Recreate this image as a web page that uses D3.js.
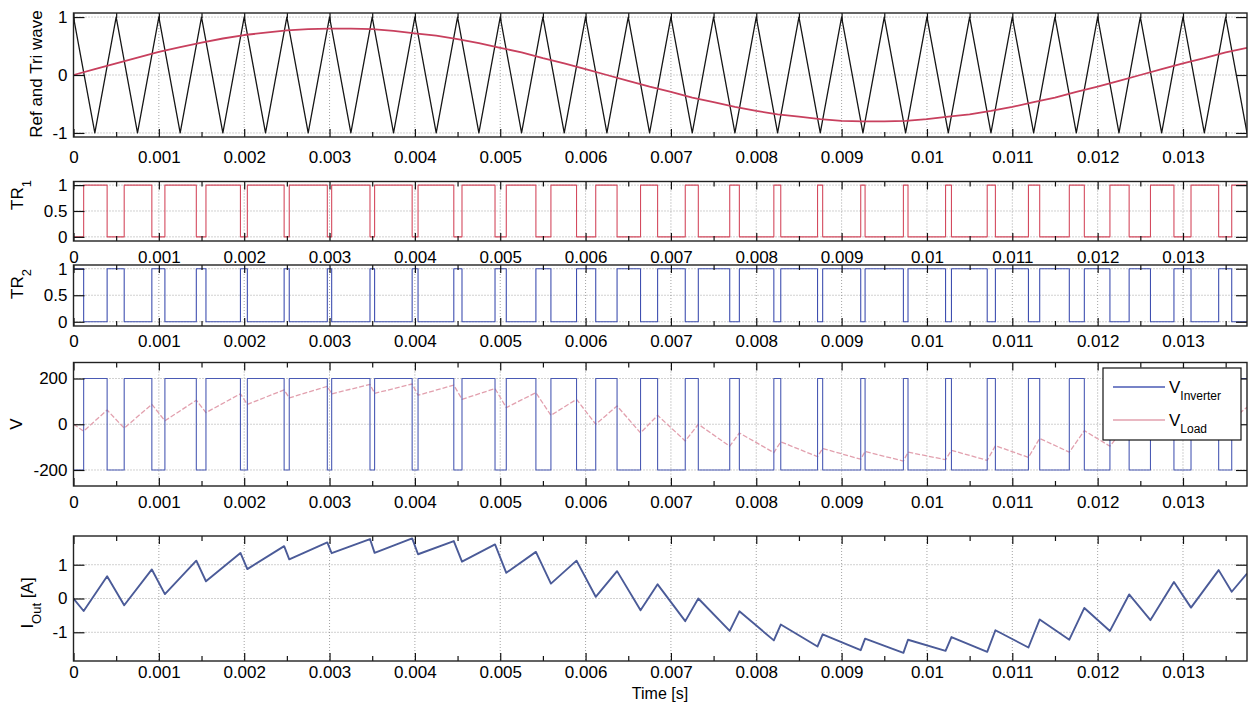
<!DOCTYPE html>
<html>
<head>
<meta charset="utf-8">
<script src="https://cdnjs.cloudflare.com/ajax/libs/d3/7.8.5/d3.min.js"></script>
<style>
body{margin:0;background:#fff}
svg{display:block;font-family:"Liberation Sans",Arial,sans-serif}
.grid line{stroke:#8c8c8c;stroke-width:0.8;stroke-dasharray:1,2}
</style>
</head>
<body>
<svg id="chart"></svg>
<script>
// all times in ms, labels show seconds
let xTicks=[0,1,2,3,4,5,6,7,8,9,10,11,12,13]
let xTickLabels=['0','0.001','0.002','0.003','0.004','0.005','0.006','0.007','0.008','0.009','0.01','0.011','0.012','0.013']
let xMinor=[0.5,1.5,2.5,3.5,4.5,5.5,6.5,7.5,8.5,9.5,10.5,11.5,12.5,13.5]

let waveTicks=[-1,0,1], waveTickLabels=['-1','0','1']
let trTicks=[0,0.5,1], trTickLabels=['0','0.5','1']
let vTicks=[-200,0,200], vTickLabels=['-200','0','200']
let iTicks=[-1,0,1], iTickLabels=['-1','0','1']

// carrier / reference samples (every 0.25 ms)
let tSample=[0,0.25,0.5,0.75,1,1.25,1.5,1.75,2,2.25,2.5,2.75,3,3.25,3.5,3.75,4,4.25,4.5,4.75,5,5.25,5.5,5.75,6,6.25,6.5,6.75,7,7.25,7.5,7.75,8,8.25,8.5,8.75,9,9.25,9.5,9.75,10,10.25,10.5,10.75,11,11.25,11.5,11.75,12,12.25,12.5,12.75,13,13.25,13.5,13.75]
let triWave=[1,-1,1,-1,1,-1,1,-1,1,-1,1,-1,1,-1,1,-1,1,-1,1,-1,1,-1,1,-1,1,-1,1,-1,1,-1,1,-1,1,-1,1,-1,1,-1,1,-1,1,-1,1,-1,1,-1,1,-1,1,-1,1,-1,1,-1,1,-1]
let refWave=[0,0.10,0.20,0.30,0.40,0.48,0.56,0.63,0.69,0.73,0.77,0.79,0.80,0.80,0.79,0.76,0.72,0.68,0.62,0.55,0.47,0.39,0.29,0.20,0.10,0,
  -0.10,-0.20,-0.29,-0.39,-0.47,-0.55,-0.62,-0.68,-0.72,-0.76,-0.79,-0.80,-0.80,-0.79,-0.76,-0.72,-0.68,-0.62,-0.55,-0.47,-0.39,-0.29,-0.20,-0.10,
  0,0.10,0.20,0.29,0.39,0.47]

// switching instants
let tEdge=[0,0.119,0.394,0.594,0.918,1.071,1.439,1.552,1.956,2.037,2.468,2.528,2.974,3.025,3.474,3.528,3.968,4.037,4.456,4.552,4.939,
  5.071,5.418,5.594,5.894,6.119,6.369,6.644,6.844,7.168,7.321,7.689,7.802,8.206,8.287,8.718,8.778,9.224,9.275,9.724,9.778,
  10.218,10.287,10.706,10.802,11.189,11.321,11.668,11.844,12.144,12.369,12.619,12.894,13.094,13.418,13.571,13.75]
let tr1=[0,1,0,1,0,1,0,1,0,1,0,1,0,1,0,1,0,1,0,1,0,1,0,1,0,1,0,1,0,1,0,1,0,1,0,1,0,1,0,1,0,1,0,1,0,1,0,1,0,1,0,1,0,1,0,1,1]
let tr2=[1,0,1,0,1,0,1,0,1,0,1,0,1,0,1,0,1,0,1,0,1,0,1,0,1,0,1,0,1,0,1,0,1,0,1,0,1,0,1,0,1,0,1,0,1,0,1,0,1,0,1,0,1,0,1,0,0]
let vInverter=[-200,200,-200,200,-200,200,-200,200,-200,200,-200,200,-200,200,-200,200,-200,200,-200,200,-200,200,-200,200,-200,200,-200,200,-200,
  200,-200,200,-200,200,-200,200,-200,200,-200,200,-200,200,-200,200,-200,200,-200,200,-200,200,-200,200,-200,200,-200,200,200]
let vLoad=[0,-30,62,-17,87,15,105,51,133,87,150,115,166,133,174,135,176,127,171,109,156,73,138,39,109,0,80,-38,39,-73,0,
  -96,-38,-124,-77,-142,-106,-153,-119,-161,-122,-155,-114,-158,-94,-145,-62,-122,-28,-96,12,-64,49,-27,84,20,74]
let iOut=[0,-0.37,0.66,-0.20,0.86,0.13,1.12,0.51,1.35,0.87,1.55,1.16,1.66,1.34,1.76,1.35,1.78,1.31,1.70,1.09,1.60,0.76,1.38,0.44,1.12,0.05,0.81,
  -0.35,0.42,-0.67,0.00,-0.96,-0.38,-1.24,-0.77,-1.42,-1.06,-1.53,-1.19,-1.61,-1.22,-1.55,-1.14,-1.58,-0.94,-1.45,-0.62,-1.22,-0.28,
  -0.96,0.12,-0.64,0.49,-0.27,0.84,0.20,0.74]

let w=1249, h=709
let left=73.5, right=1247
let fs=17
let svg=d3.select('#chart').attr('width',w).attr('height',h)
let xScale=d3.scaleLinear().domain([0,13.75]).range([left,right])

let makePanel=(id,top,bottom,domain,ticks,labels,pad)=>{
  let y=d3.scaleLinear().domain(domain).range([bottom,top])
  let g=svg.append('g')
  svg.append('clipPath').attr('id','clip-'+id).append('rect')
    .attr('x',left).attr('y',top).attr('width',right-left).attr('height',bottom-top)

  let grid=g.append('g').attr('class','grid')
  grid.selectAll('.gx').data(xTicks.slice(1)).enter().append('line')
    .attr('x1',d=>xScale(d)).attr('x2',d=>xScale(d)).attr('y1',top).attr('y2',bottom)
  grid.selectAll('.gy').data(ticks).enter().append('line')
    .attr('x1',left).attr('x2',right).attr('y1',d=>y(d)).attr('y2',d=>y(d))

  let plot=g.append('g').attr('clip-path','url(#clip-'+id+')')

  // ticks pointing inward, like matlab
  let axes=g.append('g')
  let bx=axes.append('g').attr('transform','translate(0,'+bottom+')')
    .call(d3.axisBottom(xScale).tickValues(xTicks).tickSize(-8).tickPadding(pad).tickFormat((d,i)=>xTickLabels[i]))
  bx.attr('font-size',fs).attr('font-family',null)
  axes.append('g').attr('transform','translate(0,'+bottom+')')
    .call(d3.axisBottom(xScale).tickValues(xMinor).tickSize(-5).tickFormat(''))
  axes.append('g').attr('transform','translate(0,'+top+')')
    .call(d3.axisTop(xScale).tickValues(xTicks).tickSize(-8).tickFormat(''))
  axes.append('g').attr('transform','translate(0,'+top+')')
    .call(d3.axisTop(xScale).tickValues(xMinor).tickSize(-5).tickFormat(''))
  let ly=axes.append('g').attr('transform','translate('+left+',0)')
    .call(d3.axisLeft(y).tickValues(ticks).tickSize(-11).tickPadding(6).tickFormat((d,i)=>labels[i]))
  ly.attr('font-size',fs).attr('font-family',null)
  axes.append('g').attr('transform','translate('+right+',0)')
    .call(d3.axisRight(y).tickValues(ticks).tickSize(-11).tickFormat(''))
  axes.selectAll('.domain').remove()
  axes.selectAll('.tick line').attr('stroke','#111').attr('stroke-width',1.2)
  axes.selectAll('text').attr('fill','#000')

  g.append('rect').attr('x',left).attr('y',top).attr('width',right-left).attr('height',bottom-top)
    .attr('fill','none').attr('stroke','#222').attr('stroke-width',1.4)
  return {plot,y,g}
}

let drawLine=(p,xs,ys,color,width,curve,dash)=>{
  let line=d3.line().x((d,i)=>xScale(xs[i])).y(d=>p.y(d)).curve(curve||d3.curveLinear)
  p.plot.append('path').attr('d',line(ys)).attr('fill','none')
    .attr('stroke',color).attr('stroke-width',width).attr('stroke-linejoin','round')
    .attr('stroke-dasharray',dash||null)
}

let yTitle=(x,y,parts)=>{
  let t=svg.append('text').attr('transform','translate('+x+','+y+') rotate(-90)')
    .attr('text-anchor','middle').attr('font-size',fs)
  parts.forEach(pt=>{
    let s=t.append('tspan').text(pt[0])
    if(pt[1]) s.attr('baseline-shift','sub').attr('font-size',13)
  })
}

// panel 1
let p1=makePanel('p1',13,137,[-1.07,1.07],waveTicks,waveTickLabels,14)
drawLine(p1,tSample,triWave,'#161616',1.3)
drawLine(p1,tSample,refWave,'#c8405e',1.8)

// panel 2, 3
let p2=makePanel('p2',181.5,241,[-0.08,1.07],trTicks,trTickLabels,10)
drawLine(p2,tEdge,tr1,'#d44a5e',1.1,d3.curveStepAfter)
let p3=makePanel('p3',265,326,[-0.08,1.07],trTicks,trTickLabels,9)
drawLine(p3,tEdge,tr2,'#3f4fb0',1.1,d3.curveStepAfter)

// panel 4
let p4=makePanel('p4',362.5,486,[-270,270],vTicks,vTickLabels,10)
drawLine(p4,tEdge,vLoad,'#e2a0ae',1.3,null,'5,2')
drawLine(p4,tEdge,vInverter,'#4a5ab4',1.1,d3.curveStepAfter)

// panel 5
let p5=makePanel('p5',536,661,[-1.85,1.85],iTicks,iTickLabels,5)
drawLine(p5,tEdge,iOut,'#4b5b98',1.9)

// legend
let lg=svg.append('g')
lg.append('rect').attr('x',1103).attr('y',368).attr('width',138).attr('height',72)
  .attr('fill','#fff').attr('stroke','#111').attr('stroke-width',1.2)
lg.append('line').attr('x1',1113).attr('x2',1165).attr('y1',387).attr('y2',387).attr('stroke','#4a5ab4').attr('stroke-width',1.3)
lg.append('line').attr('x1',1113).attr('x2',1165).attr('y1',420).attr('y2',420).attr('stroke','#e2a0ae').attr('stroke-width',1.3)
let lt1=lg.append('text').attr('x',1169).attr('y',393).attr('font-size',fs)
lt1.append('tspan').text('V')
lt1.append('tspan').text('Inverter').attr('baseline-shift','sub').attr('font-size',12)
let lt2=lg.append('text').attr('x',1169).attr('y',426).attr('font-size',fs)
lt2.append('tspan').text('V')
lt2.append('tspan').text('Load').attr('baseline-shift','sub').attr('font-size',12)

// axis titles
yTitle(42,74,[['Ref and Tri wave']])
yTitle(23,195,[['TR'],['1',true]])
yTitle(23,284,[['TR'],['2',true]])
yTitle(22,424,[['V']])
yTitle(33,603,[['I'],['Out',true],[' [A]']])

svg.append('text').attr('x',660).attr('y',699).attr('text-anchor','middle')
  .attr('font-size',16).text('Time [s]')
</script>
</body>
</html>
